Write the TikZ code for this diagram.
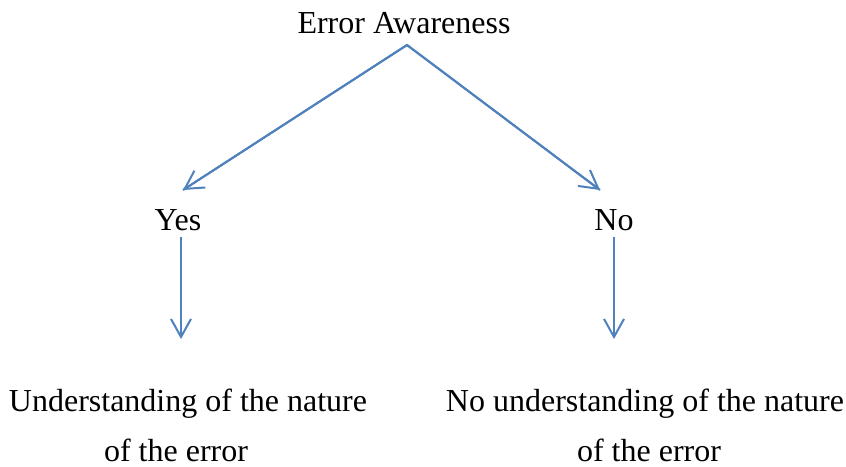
\documentclass[tikz,border=0pt]{standalone}
\usepackage{fontspec}
\setmainfont{Liberation Serif}
\usetikzlibrary{arrows.meta}
\definecolor{linkblue}{HTML}{4F81BD}
\begin{document}
\begin{tikzpicture}[x=0.5pt,y=-0.5pt,
  lbl/.style={inner sep=0pt,anchor=base,font=\fontsize{16}{19}\selectfont},
  conn/.style={draw=linkblue,line width=1pt,-{Straight Barb[length=9pt,width=10pt,line width=1pt]}}]
\useasboundingbox (0,0) rectangle (846,466);
\node[lbl] (top) at (404,33) {Error Awareness};
\coordinate (apex) at (407,45);
\coordinate (lend) at (183,190);
\coordinate (rend) at (600,190);
\node[lbl] (yes) at (178,230) {Yes};
\node[lbl] (no) at (614,230) {No};
\node[lbl] (u1) at (188,411) {Understanding of the nature};
\node[lbl] (u2) at (176,461) {of the error};
\node[lbl] (n1) at (645,411) {No understanding of the nature};
\node[lbl] (n2) at (649,461) {of the error};
\draw[draw=linkblue,line width=1pt] (lend) -- (apex) -- (rend);
\draw[conn] (apex) -- (lend);
\draw[conn] (apex) -- (rend);
\coordinate (ys) at (181,237);
\coordinate (ye) at (181,339);
\coordinate (ns) at (614,237);
\coordinate (ne) at (614,339);
\draw[conn] (ys) -- (ye);
\draw[conn] (ns) -- (ne);
\end{tikzpicture}
\end{document}
